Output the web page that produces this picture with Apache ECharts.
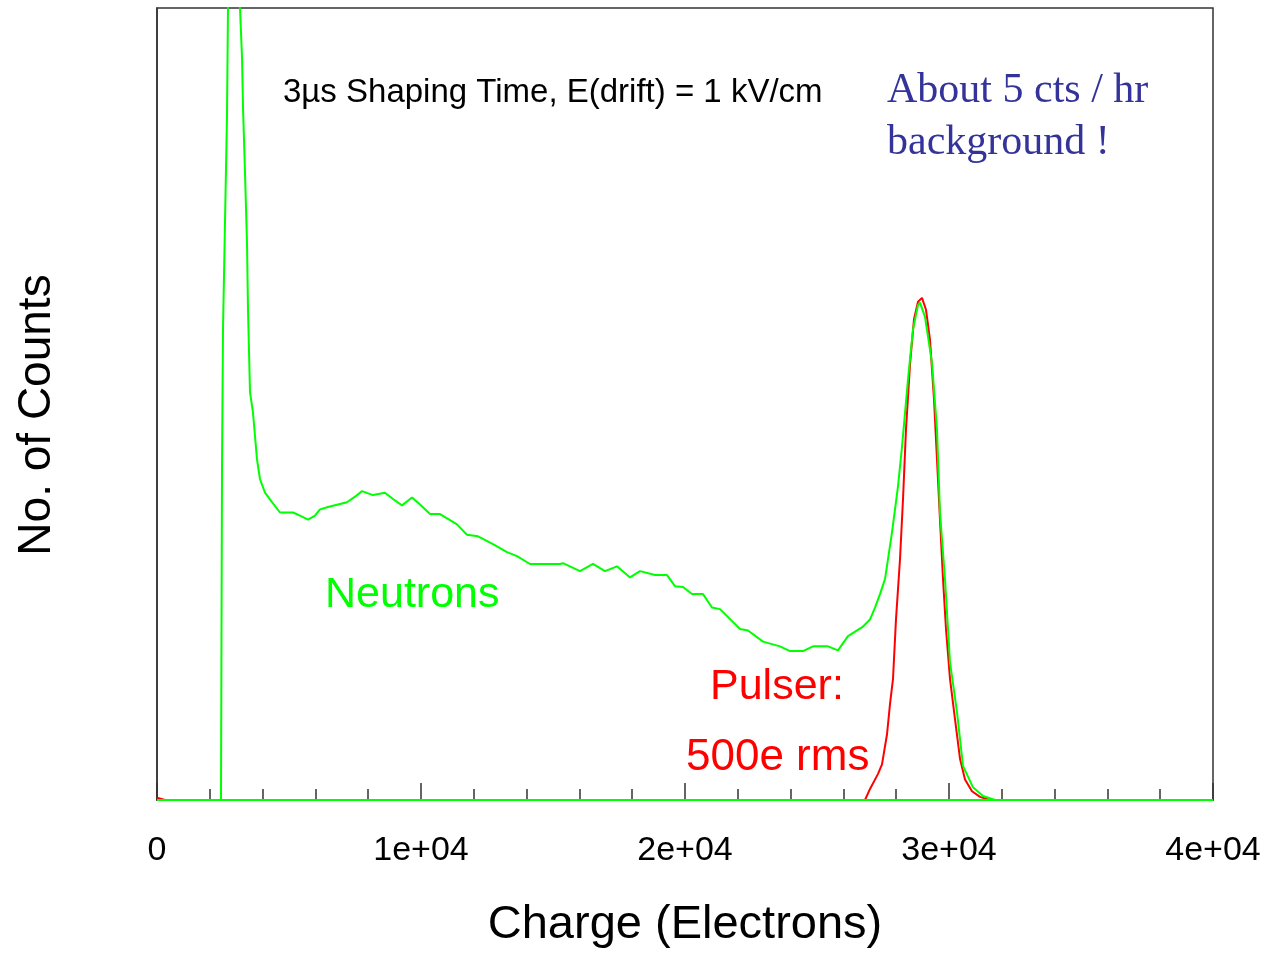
<!DOCTYPE html>
<html>
<head>
<meta charset="UTF-8">
<title>Charge spectrum</title>
<script src="https://cdn.jsdelivr.net/npm/echarts@6/dist/echarts.min.js"></script>
<style>
    body { margin: 0; padding: 0; background: #fff; overflow: hidden; }
    #chart { width: 1265px; height: 954px; }
</style>
</head>
<body>
<div id="chart"></div>
<script>
    // charge (electrons) and counts (arbitrary units, axis 0-1000)
    const neutronX = [0, 2348, 2424, 2462, 2500, 2576, 2652, 2689, 2730, 3100, 3144, 3220, 3258, 3333, 3409, 3447, 3523, 3636, 3788, 3902,
        4091, 4356, 4659, 5152, 5417, 5720, 5985, 6174, 6477, 7197, 7500, 7765, 8182, 8636, 8939, 9280, 9659, 9962, 10341, 10720,
        11364, 11742, 12159, 12727, 13258, 13636, 14129, 15265, 15379, 16023, 16515, 16970, 17424, 17917, 18295, 18864, 19318, 19621, 19924, 20265,
        20682, 21023, 21326, 22083, 22386, 22955, 23598, 23977, 24470, 24848, 25417, 25795, 26174, 26742, 27008, 27197, 27386, 27576, 27841, 28068,
        28220, 28447, 28636, 28826, 28902, 29091, 29356, 29545, 29659, 29848, 30038, 30303, 30530, 30909, 31288, 31742, 40000];
    const neutronY = [0, 0, 0, 417, 594, 730, 865, 1000, 1300, 1300, 1000, 938, 875, 792, 704, 619, 515, 489, 430, 405,
        388, 376, 363, 363, 359, 354, 359, 367, 370, 376, 383, 390, 385, 388, 380, 372, 382, 373, 361, 361,
        348, 335, 333, 323, 313, 308, 298, 298, 299, 289, 298, 289, 295, 281, 289, 284, 284, 270, 269, 260,
        260, 243, 241, 216, 214, 200, 194, 188, 188, 194, 194, 189, 207, 219, 228, 243, 260, 279, 338, 396,
        446, 531, 594, 625, 628, 610, 552, 468, 363, 279, 174, 111, 43, 16, 5, 0, 0];

    const pulserX = [0, 300, 26818, 27008, 27311, 27462, 27652, 27765, 27879, 27992, 28144, 28258, 28371, 28523, 28674, 28826, 28977, 29129,
        29280, 29432, 29545, 29659, 29773, 29886, 30038, 30227, 30417, 30606, 30871, 31174, 31553, 40000];
    const pulserY = [3, 0, 0, 14, 33, 45, 83, 121, 153, 228, 304, 380, 468, 550, 607, 629, 634, 619,
        581, 506, 430, 354, 279, 216, 153, 102, 52, 26, 11, 4, 0, 0];

    const tickValues = [0, 10000, 20000, 30000, 40000];
    const tickLabels = ['0', '1e+04', '2e+04', '3e+04', '4e+04'];

    const zip = (xs, ys) => xs.map((x, i) => [x, ys[i]]);

    const chart = echarts.init(document.getElementById('chart'));

    const option = {
        animation: false,
        grid: {
            left: 157, right: 52, top: 8, bottom: 153,
            show: true, borderColor: '#333', borderWidth: 1.5
        },
        xAxis: {
            type: 'value',
            min: 0, max: 40000, interval: 10000,
            name: 'Charge (Electrons)',
            nameLocation: 'middle',
            nameGap: 102,
            nameTextStyle: { fontFamily: 'Liberation Sans', fontSize: 47, color: '#000' },
            axisLine: { lineStyle: { color: '#333', width: 1.5 } },
            axisTick: { inside: true, length: 17, lineStyle: { color: '#333', width: 1.5 } },
            minorTick: { show: true, splitNumber: 5, length: 11, lineStyle: { color: '#333', width: 1.5 } },
            splitLine: { show: false },
            axisLabel: {
                margin: 34,
                fontFamily: 'Liberation Sans', fontSize: 34, color: '#000',
                formatter: v => tickLabels[tickValues.indexOf(v)]
            }
        },
        yAxis: {
            type: 'value',
            min: 0, max: 1000,
            name: 'No. of Counts',
            nameLocation: 'middle',
            nameGap: 97,
            nameTextStyle: { fontFamily: 'Liberation Sans', fontSize: 46, color: '#000', padding: [0, 22, 0, 0] },
            axisLine: { show: true, lineStyle: { color: '#333', width: 1.5 } },
            axisTick: { show: false },
            axisLabel: { show: false },
            splitLine: { show: false }
        },
        series: [
            {
                name: 'Pulser', type: 'line', data: zip(pulserX, pulserY),
                showSymbol: false, clip: true, z: 2,
                lineStyle: { color: '#ff0000', width: 2 }
            },
            {
                name: 'Neutrons', type: 'line', data: zip(neutronX, neutronY),
                showSymbol: false, clip: true, z: 3,
                lineStyle: { color: '#00ff00', width: 2 },
                markLine: {
                    silent: true, symbol: 'none', label: { show: false },
                    lineStyle: { color: '#00ff00', width: 2, type: 'solid' },
                    data: [{ yAxis: 0 }]
                }
            }
        ],
        graphic: [
            { type: 'text', left: 283, top: 76, style: { text: '3µs Shaping Time, E(drift) = 1 kV/cm', fontFamily: 'Liberation Sans', fontSize: 33, fill: '#000' } },
            { type: 'text', left: 887, top: 65, style: { text: 'About 5 cts / hr\nbackground !', fontFamily: 'Liberation Serif', fontSize: 42, lineHeight: 52, fill: '#333399' } },
            { type: 'text', left: 325, top: 574, style: { text: 'Neutrons', fontFamily: 'Liberation Sans', fontSize: 43, fill: '#00ff00' } },
            { type: 'text', left: 710, top: 666, style: { text: 'Pulser:', fontFamily: 'Liberation Sans', fontSize: 43, fill: '#ff0000' } },
            { type: 'text', left: 686, top: 736, style: { text: '500e rms', fontFamily: 'Liberation Sans', fontSize: 44, fill: '#ff0000' } }
        ]
    };

    chart.setOption(option);
</script>
</body>
</html>
